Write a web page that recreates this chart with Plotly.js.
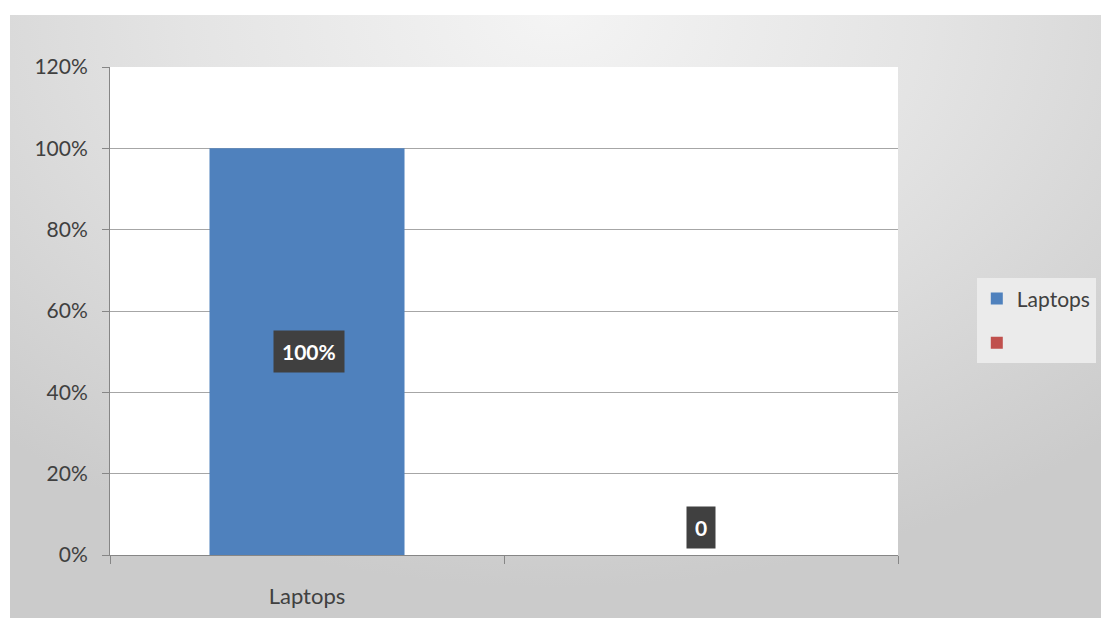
<!DOCTYPE html>
<html>
<head>
<meta charset="utf-8">
<script src="https://cdn.plot.ly/plotly-3.0.1.min.js"></script>
<style>
  html, body { margin: 0; padding: 0; background: #ffffff; }
  #wrap { position: relative; width: 1101px; height: 619px; overflow: hidden; }
  #bg { position: absolute; left: 10px; top: 15px; width: 1091px; height: 603px;
        background: radial-gradient(ellipse 75% 95% at 50% 0%, #f4f4f4 0%, #e4e4e4 45%, #cbcbcb 100%); }
  #chart { position: absolute; left: 0; top: 0; width: 1101px; height: 619px; }
</style>
</head>
<body>
<div id="wrap">
  <div id="bg"></div>
  <div id="chart"></div>
</div>
<script>
// Data
const categories = ['Laptops', ' '];
const seriesNames = ['Laptops', ' '];
const series1Values = [1.0];      // Laptops, on category 1
const series2Values = [0];        // unnamed series, on category 2
const labels1 = ['100%'];
const labels2 = ['0'];
const yTickVals = [0, 0.2, 0.4, 0.6, 0.8, 1.0, 1.2];
const yTickText = ['0%', '20%', '40%', '60%', '80%', '100%', '120%'];

const traces = [
  {
    type: 'bar', name: seriesNames[0], legendgroup: 'a',
    x: [categories[0]], y: series1Values, width: 0.495,
    marker: { color: '#4F81BD' }, hoverinfo: 'none'
  },
  {
    type: 'bar', name: seriesNames[1], legendgroup: 'b',
    x: [categories[1]], y: series2Values, width: 0.495,
    marker: { color: '#C0504D' }, hoverinfo: 'none'
  }
];

const annFont = { family: 'Lato, "Open Sans", sans-serif', size: 21, color: '#ffffff', weight: 'bold' };
const annotations = [
  {
    x: categories[0], y: series1Values[0] / 2, xref: 'x', yref: 'y',
    text: '<b>' + labels1[0] + '</b>', showarrow: false, font: annFont,
    bgcolor: '#404040', borderpad: 8, xanchor: 'center', yanchor: 'middle', xshift: 2
  },
  {
    x: categories[1], y: series2Values[0], xref: 'x', yref: 'y',
    text: '<b>' + labels2[0] + '</b>', showarrow: false, font: annFont,
    bgcolor: '#404040', borderpad: 8, xanchor: 'center', yanchor: 'bottom', yshift: 6
  }
];

const layout = {
  width: 1101, height: 619,
  margin: { l: 110, r: 203, t: 67, b: 64, pad: 0, autoexpand: false },
  paper_bgcolor: 'rgba(0,0,0,0)',
  plot_bgcolor: '#ffffff',
  barmode: 'overlay',
  showlegend: true,
  font: { family: 'Lato, "Open Sans", sans-serif', color: '#404040' },
  xaxis: {
    type: 'category', categoryorder: 'array', categoryarray: categories,
    range: [-0.5, 1.5],
    tickson: 'boundaries', ticks: 'outside', ticklen: 8, tickcolor: '#868686',
    showline: true, linecolor: '#868686', linewidth: 1,
    showgrid: false, zeroline: false,
    ticklabelstandoff: 22,
    tickfont: { size: 22, color: '#404040' }
  },
  yaxis: {
    range: [0, 1.2], tickvals: yTickVals, ticktext: yTickText,
    ticks: 'outside', ticklen: 7, tickcolor: '#868686',
    showline: true, linecolor: '#868686', linewidth: 1,
    showgrid: true, gridcolor: '#a6a6a6', gridwidth: 1,
    zeroline: false,
    ticklabelstandoff: 10,
    tickfont: { size: 21, color: '#404040' }
  },
  legend: {
    x: 1.1, xanchor: 'left', y: 0.48, yanchor: 'middle',
    bgcolor: '#ebebeb', borderwidth: 0,
    traceorder: 'grouped', tracegroupgap: 14,
    font: { size: 21, color: '#404040' }, itemwidth: 30
  },
  annotations: annotations
};

Plotly.newPlot('chart', traces, layout, { displayModeBar: false, staticPlot: true });
</script>
</body>
</html>
